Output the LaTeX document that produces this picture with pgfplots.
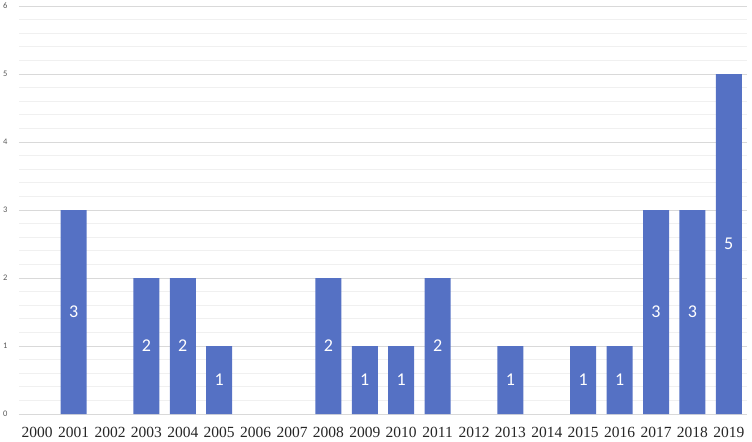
\documentclass[border=0pt]{standalone}
\usepackage{pgfplots}
\pgfplotsset{compat=1.18}
\usepackage{pgfplotstable}
\usepackage{fontspec}
\setmainfont{Liberation Serif}
\newfontfamily\carlito{Carlito}
\definecolor{barblue}{RGB}{85,113,196}
\definecolor{majgrid}{RGB}{217,217,217}
\definecolor{mingrid}{RGB}{240,240,240}
\pgfplotstableread{
x y
1 3
3 2
4 2
5 1
8 2
9 1
10 1
11 2
13 1
15 1
16 1
17 3
18 3
19 5
}\datatable
\pgfplotstableread{
x half v
1 1.5 3
3 1.0 2
4 1.0 2
5 0.5 1
8 1.0 2
9 0.5 1
10 0.5 1
11 1.0 2
13 0.5 1
15 0.5 1
16 0.5 1
17 1.5 3
18 1.5 3
19 2.5 5
}\labeltable
\begin{document}
\begin{tikzpicture}
\path[use as bounding box] (-19bp,-28bp) rectangle (733bp,414bp);
\begin{axis}[
  /pgf/number format/assume math mode=true,
  scale only axis,
  width=728bp, height=408bp,
  xmin=-0.5, xmax=19.5, ymin=0, ymax=6,
  axis line style={draw=none},
  major tick length=0pt, minor tick length=0pt,
  xtick={0,...,19},
  xticklabels={2000,2001,2002,2003,2004,2005,2006,2007,2008,2009,2010,2011,2012,2013,2014,2015,2016,2017,2018,2019},
  xticklabel style={font=\fontsize{15.5bp}{16bp}\selectfont, text=black!85, anchor=center, yshift=-18bp},
  ytick={0,...,6},
  minor y tick num=4,
  yticklabel style={font=\carlito\fontsize{8.5bp}{9bp}\selectfont, text=black!65, xshift=-8bp},
  ymajorgrids, yminorgrids,
  major grid style={draw=majgrid, line width=0.8bp},
  minor grid style={draw=mingrid, line width=0.8bp},
  clip=false,
]
\addplot[ybar, bar width=26bp, bar shift=0pt, fill=barblue, draw=none] table[x=x,y=y]{\datatable};
\addplot[draw=none, mark=none, nodes near coords, point meta=explicit,
  every node near coord/.style={anchor=center, text=white, font=\carlito\fontsize{18bp}{19bp}\selectfont}]
  table[x=x,y=half,meta=v]{\labeltable};
\end{axis}
\end{tikzpicture}
\end{document}
